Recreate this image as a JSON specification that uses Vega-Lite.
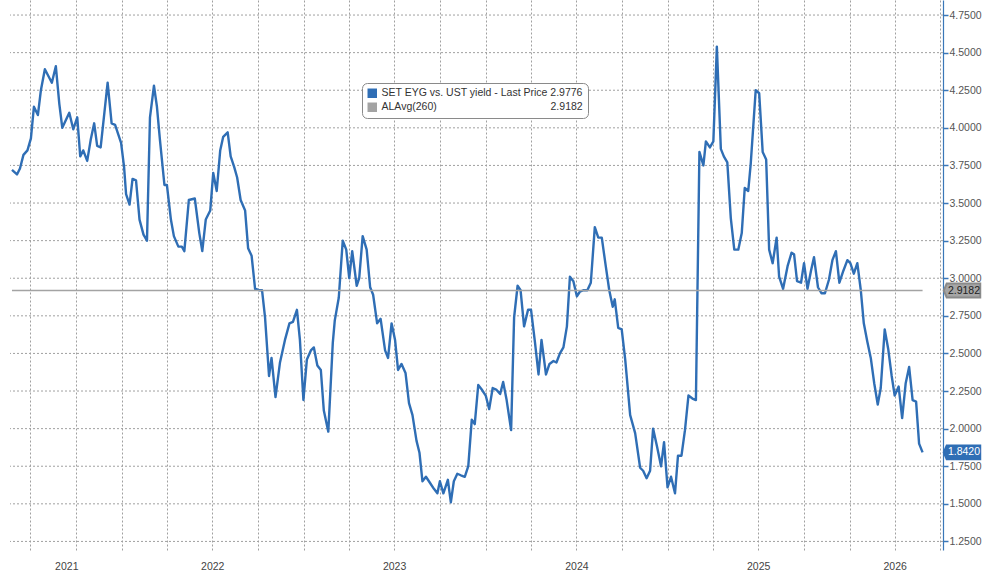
{
  "$schema": "https://vega.github.io/schema/vega-lite/v6.json",
  "width": 933,
  "height": 550,
  "autosize": {"type": "none"},
  "padding": {"left": 10, "top": 0, "right": 39, "bottom": 23},
  "background": "white",
  "config": {
    "view": {"stroke": null},
    "font": "Liberation Sans"
  },
  "datasets": {
    "series": [
      {"date": "2021-05-25", "value": 3.72}, {"date": "2021-06-04", "value": 3.69}, {"date": "2021-06-10", "value": 3.73}, {"date": "2021-06-17", "value": 3.82}, {"date": "2021-06-25", "value": 3.85},
      {"date": "2021-07-02", "value": 3.93}, {"date": "2021-07-08", "value": 4.14}, {"date": "2021-07-16", "value": 4.085}, {"date": "2021-07-22", "value": 4.25}, {"date": "2021-07-30", "value": 4.39},
      {"date": "2021-08-13", "value": 4.30}, {"date": "2021-08-21", "value": 4.41}, {"date": "2021-08-28", "value": 4.16}, {"date": "2021-09-03", "value": 4.00}, {"date": "2021-09-10", "value": 4.05},
      {"date": "2021-09-17", "value": 4.10}, {"date": "2021-09-25", "value": 3.99}, {"date": "2021-10-03", "value": 4.07}, {"date": "2021-10-09", "value": 3.81}, {"date": "2021-10-15", "value": 3.85},
      {"date": "2021-10-23", "value": 3.78}, {"date": "2021-10-30", "value": 3.92}, {"date": "2021-11-06", "value": 4.03}, {"date": "2021-11-12", "value": 3.88}, {"date": "2021-11-19", "value": 3.87},
      {"date": "2021-12-03", "value": 4.30}, {"date": "2021-12-11", "value": 4.03}, {"date": "2021-12-18", "value": 4.02}, {"date": "2021-12-30", "value": 3.90}, {"date": "2022-01-05", "value": 3.74},
      {"date": "2022-01-09", "value": 3.56}, {"date": "2022-01-16", "value": 3.49}, {"date": "2022-01-22", "value": 3.66}, {"date": "2022-01-29", "value": 3.65}, {"date": "2022-02-05", "value": 3.39},
      {"date": "2022-02-13", "value": 3.29}, {"date": "2022-02-20", "value": 3.25}, {"date": "2022-02-26", "value": 4.07}, {"date": "2022-03-06", "value": 4.28}, {"date": "2022-03-12", "value": 4.14},
      {"date": "2022-03-18", "value": 3.92}, {"date": "2022-03-27", "value": 3.62}, {"date": "2022-04-01", "value": 3.62}, {"date": "2022-04-09", "value": 3.39}, {"date": "2022-04-15", "value": 3.28},
      {"date": "2022-04-24", "value": 3.21}, {"date": "2022-05-01", "value": 3.21}, {"date": "2022-05-06", "value": 3.18}, {"date": "2022-05-15", "value": 3.52}, {"date": "2022-05-27", "value": 3.53},
      {"date": "2022-06-05", "value": 3.30}, {"date": "2022-06-11", "value": 3.18}, {"date": "2022-06-18", "value": 3.39}, {"date": "2022-06-27", "value": 3.45}, {"date": "2022-07-03", "value": 3.70},
      {"date": "2022-07-10", "value": 3.58}, {"date": "2022-07-17", "value": 3.85}, {"date": "2022-07-23", "value": 3.94}, {"date": "2022-08-01", "value": 3.97}, {"date": "2022-08-07", "value": 3.81},
      {"date": "2022-08-14", "value": 3.74}, {"date": "2022-08-20", "value": 3.67}, {"date": "2022-08-27", "value": 3.52}, {"date": "2022-09-05", "value": 3.45}, {"date": "2022-09-11", "value": 3.20},
      {"date": "2022-09-18", "value": 3.15}, {"date": "2022-09-25", "value": 2.93}, {"date": "2022-10-04", "value": 2.92}, {"date": "2022-10-09", "value": 2.92}, {"date": "2022-10-15", "value": 2.74},
      {"date": "2022-10-23", "value": 2.35}, {"date": "2022-10-28", "value": 2.47}, {"date": "2022-11-05", "value": 2.21}, {"date": "2022-11-14", "value": 2.44}, {"date": "2022-11-24", "value": 2.59},
      {"date": "2022-12-03", "value": 2.70}, {"date": "2022-12-10", "value": 2.71}, {"date": "2022-12-18", "value": 2.79}, {"date": "2022-12-24", "value": 2.59}, {"date": "2022-12-31", "value": 2.19},
      {"date": "2023-01-07", "value": 2.46}, {"date": "2023-01-15", "value": 2.52}, {"date": "2023-01-21", "value": 2.54}, {"date": "2023-01-28", "value": 2.42}, {"date": "2023-02-04", "value": 2.39},
      {"date": "2023-02-10", "value": 2.12}, {"date": "2023-02-19", "value": 1.98}, {"date": "2023-02-28", "value": 2.57}, {"date": "2023-03-04", "value": 2.72}, {"date": "2023-03-12", "value": 2.87},
      {"date": "2023-03-20", "value": 3.25}, {"date": "2023-03-27", "value": 3.19}, {"date": "2023-04-02", "value": 3.00}, {"date": "2023-04-08", "value": 3.18}, {"date": "2023-04-17", "value": 2.95},
      {"date": "2023-04-22", "value": 3.00}, {"date": "2023-04-29", "value": 3.28}, {"date": "2023-05-07", "value": 3.19}, {"date": "2023-05-14", "value": 2.94}, {"date": "2023-05-20", "value": 2.89},
      {"date": "2023-05-28", "value": 2.70}, {"date": "2023-06-04", "value": 2.73}, {"date": "2023-06-13", "value": 2.52}, {"date": "2023-06-19", "value": 2.47}, {"date": "2023-06-26", "value": 2.70},
      {"date": "2023-07-03", "value": 2.59}, {"date": "2023-07-09", "value": 2.39}, {"date": "2023-07-16", "value": 2.43}, {"date": "2023-07-24", "value": 2.37}, {"date": "2023-07-31", "value": 2.17},
      {"date": "2023-08-07", "value": 2.09}, {"date": "2023-08-15", "value": 1.92}, {"date": "2023-08-21", "value": 1.84}, {"date": "2023-08-27", "value": 1.65}, {"date": "2023-09-03", "value": 1.68},
      {"date": "2023-09-11", "value": 1.64}, {"date": "2023-09-19", "value": 1.60}, {"date": "2023-09-26", "value": 1.57}, {"date": "2023-10-01", "value": 1.65}, {"date": "2023-10-08", "value": 1.57},
      {"date": "2023-10-17", "value": 1.66}, {"date": "2023-10-23", "value": 1.51}, {"date": "2023-10-29", "value": 1.65}, {"date": "2023-11-05", "value": 1.70}, {"date": "2023-11-12", "value": 1.69},
      {"date": "2023-11-20", "value": 1.68}, {"date": "2023-11-27", "value": 1.75}, {"date": "2023-12-04", "value": 2.06}, {"date": "2023-12-10", "value": 2.03}, {"date": "2023-12-17", "value": 2.29},
      {"date": "2023-12-24", "value": 2.26}, {"date": "2024-01-01", "value": 2.22}, {"date": "2024-01-08", "value": 2.13}, {"date": "2024-01-15", "value": 2.27}, {"date": "2024-01-22", "value": 2.26},
      {"date": "2024-01-30", "value": 2.23}, {"date": "2024-02-05", "value": 2.31}, {"date": "2024-02-12", "value": 2.19}, {"date": "2024-02-21", "value": 1.99}, {"date": "2024-02-27", "value": 2.74},
      {"date": "2024-03-05", "value": 2.95}, {"date": "2024-03-11", "value": 2.92}, {"date": "2024-03-18", "value": 2.68}, {"date": "2024-03-26", "value": 2.79}, {"date": "2024-04-01", "value": 2.79},
      {"date": "2024-04-09", "value": 2.57}, {"date": "2024-04-16", "value": 2.36}, {"date": "2024-04-22", "value": 2.59}, {"date": "2024-05-01", "value": 2.36}, {"date": "2024-05-08", "value": 2.43},
      {"date": "2024-05-16", "value": 2.45}, {"date": "2024-05-22", "value": 2.44}, {"date": "2024-05-29", "value": 2.50}, {"date": "2024-06-05", "value": 2.54}, {"date": "2024-06-12", "value": 2.68},
      {"date": "2024-06-18", "value": 3.01}, {"date": "2024-06-25", "value": 2.98}, {"date": "2024-07-02", "value": 2.88}, {"date": "2024-07-08", "value": 2.91}, {"date": "2024-07-15", "value": 2.92},
      {"date": "2024-07-23", "value": 2.92}, {"date": "2024-07-30", "value": 2.97}, {"date": "2024-08-07", "value": 3.34}, {"date": "2024-08-14", "value": 3.27}, {"date": "2024-08-21", "value": 3.27},
      {"date": "2024-08-29", "value": 3.08}, {"date": "2024-09-05", "value": 2.92}, {"date": "2024-09-12", "value": 2.81}, {"date": "2024-09-16", "value": 2.86}, {"date": "2024-09-23", "value": 2.67},
      {"date": "2024-09-30", "value": 2.66}, {"date": "2024-10-07", "value": 2.46}, {"date": "2024-10-17", "value": 2.09}, {"date": "2024-10-27", "value": 1.97}, {"date": "2024-11-06", "value": 1.74},
      {"date": "2024-11-12", "value": 1.72}, {"date": "2024-11-19", "value": 1.67}, {"date": "2024-11-26", "value": 1.72}, {"date": "2024-12-02", "value": 2.00}, {"date": "2024-12-10", "value": 1.88},
      {"date": "2024-12-18", "value": 1.75}, {"date": "2024-12-24", "value": 1.91}, {"date": "2024-12-31", "value": 1.61}, {"date": "2025-01-07", "value": 1.68}, {"date": "2025-01-15", "value": 1.57},
      {"date": "2025-01-21", "value": 1.82}, {"date": "2025-01-28", "value": 1.82}, {"date": "2025-02-04", "value": 1.99}, {"date": "2025-02-11", "value": 2.22}, {"date": "2025-02-19", "value": 2.20},
      {"date": "2025-02-26", "value": 2.19}, {"date": "2025-03-05", "value": 3.84}, {"date": "2025-03-13", "value": 3.75}, {"date": "2025-03-18", "value": 3.91}, {"date": "2025-03-26", "value": 3.87},
      {"date": "2025-04-02", "value": 3.91}, {"date": "2025-04-09", "value": 4.54}, {"date": "2025-04-17", "value": 3.86}, {"date": "2025-04-23", "value": 3.81}, {"date": "2025-04-30", "value": 3.77},
      {"date": "2025-05-07", "value": 3.40}, {"date": "2025-05-14", "value": 3.19}, {"date": "2025-05-22", "value": 3.19}, {"date": "2025-05-29", "value": 3.30}, {"date": "2025-06-04", "value": 3.60},
      {"date": "2025-06-11", "value": 3.58}, {"date": "2025-06-16", "value": 3.76}, {"date": "2025-06-26", "value": 4.25}, {"date": "2025-07-03", "value": 4.23}, {"date": "2025-07-10", "value": 3.84},
      {"date": "2025-07-17", "value": 3.79}, {"date": "2025-07-23", "value": 3.19}, {"date": "2025-07-30", "value": 3.10}, {"date": "2025-08-07", "value": 3.27}, {"date": "2025-08-12", "value": 3.01},
      {"date": "2025-08-20", "value": 2.93}, {"date": "2025-08-29", "value": 3.08}, {"date": "2025-09-06", "value": 3.17}, {"date": "2025-09-11", "value": 3.16}, {"date": "2025-09-17", "value": 2.98},
      {"date": "2025-09-25", "value": 2.97}, {"date": "2025-10-01", "value": 3.10}, {"date": "2025-10-08", "value": 2.93}, {"date": "2025-10-15", "value": 3.05}, {"date": "2025-10-21", "value": 3.14},
      {"date": "2025-10-29", "value": 2.94}, {"date": "2025-11-05", "value": 2.90}, {"date": "2025-11-12", "value": 2.90}, {"date": "2025-11-20", "value": 2.99}, {"date": "2025-11-27", "value": 3.12},
      {"date": "2025-12-04", "value": 3.18}, {"date": "2025-12-11", "value": 2.97}, {"date": "2025-12-19", "value": 3.05}, {"date": "2025-12-27", "value": 3.12}, {"date": "2026-01-02", "value": 3.10},
      {"date": "2026-01-09", "value": 3.03}, {"date": "2026-01-16", "value": 3.10}, {"date": "2026-01-23", "value": 2.92}, {"date": "2026-01-29", "value": 2.70}, {"date": "2026-02-05", "value": 2.58},
      {"date": "2026-02-12", "value": 2.47}, {"date": "2026-02-19", "value": 2.30}, {"date": "2026-02-26", "value": 2.16}, {"date": "2026-03-04", "value": 2.27}, {"date": "2026-03-12", "value": 2.66},
      {"date": "2026-03-19", "value": 2.53}, {"date": "2026-03-26", "value": 2.35}, {"date": "2026-04-01", "value": 2.22}, {"date": "2026-04-09", "value": 2.28}, {"date": "2026-04-16", "value": 2.07},
      {"date": "2026-04-23", "value": 2.30}, {"date": "2026-04-30", "value": 2.41}, {"date": "2026-05-07", "value": 2.19}, {"date": "2026-05-14", "value": 2.18}, {"date": "2026-05-20", "value": 1.90},
      {"date": "2026-05-27", "value": 1.842}
    ],
    "ygrid": [
      {"level": 1.25}, {"level": 1.5}, {"level": 1.75}, {"level": 2.0}, {"level": 2.25}, {"level": 2.5}, {"level": 2.75}, {"level": 3.0},
      {"level": 3.25}, {"level": 3.5}, {"level": 3.75}, {"level": 4.0}, {"level": 4.25}, {"level": 4.5}, {"level": 4.75}
    ],
    "avg": [{"start": "2021-05-25", "end": "2026-05-27", "value": 2.9182}],
    "tags": [
      {"kind": "avg", "value": 2.9182, "label": "2.9182"},
      {"kind": "last", "value": 1.842, "label": "1.8420"}
    ]
  },
  "layer": [
    {
      "data": {"name": "ygrid"},
      "mark": {"type": "rule", "color": "#a0a0a0", "strokeWidth": 1, "strokeDash": [2, 2]},
      "encoding": {
        "y": {"field": "level", "type": "quantitative"}
      }
    },
    {
      "data": {"name": "series"},
      "mark": {"type": "line", "strokeWidth": 2.4, "strokeJoin": "round"},
      "encoding": {
        "x": {
          "field": "date", "type": "temporal",
          "scale": {"domain": [{"year": 2021, "month": 5, "date": 21}, {"year": 2026, "month": 7, "date": 7}]},
          "axis": {
            "orient": "bottom", "title": null, "ticks": false, "domain": false, "grid": true, "labelOverlap": false, "tickCount": 40,
            "values": [
              {"year": 2021, "month": 7, "date": 1}, {"year": 2021, "month": 9, "date": 11}, {"year": 2021, "month": 10, "date": 1},
              {"year": 2022, "month": 1, "date": 1}, {"year": 2022, "month": 4, "date": 1}, {"year": 2022, "month": 7, "date": 1}, {"year": 2022, "month": 10, "date": 1},
              {"year": 2023, "month": 1, "date": 1}, {"year": 2023, "month": 4, "date": 1}, {"year": 2023, "month": 7, "date": 1}, {"year": 2023, "month": 10, "date": 1},
              {"year": 2024, "month": 1, "date": 1}, {"year": 2024, "month": 4, "date": 1}, {"year": 2024, "month": 7, "date": 1}, {"year": 2024, "month": 10, "date": 1},
              {"year": 2025, "month": 1, "date": 1}, {"year": 2025, "month": 4, "date": 1}, {"year": 2025, "month": 7, "date": 1}, {"year": 2025, "month": 10, "date": 1},
              {"year": 2026, "month": 1, "date": 1}, {"year": 2026, "month": 4, "date": 1}, {"year": 2026, "month": 7, "date": 1}
            ],
            "labelExpr": "(month(datum.value) == 6 && year(datum.value) >= 2022 && year(datum.value) <= 2025) || (month(datum.value) == 8) || (month(datum.value) == 3 && year(datum.value) == 2026) ? timeFormat(datum.value, '%Y') : ''",
            "gridOpacity": {"condition": {"test": "month(datum.value) == 8", "value": 0}, "value": 1},
            "gridColor": "#a0a0a0", "gridDash": [2, 2], "gridWidth": 1,
            "labelColor": "#444444", "labelFontSize": 10.5, "labelPadding": 11, "labelFont": "Liberation Sans"
          }
        },
        "y": {
          "field": "value", "type": "quantitative",
          "scale": {"domain": [1.193, 4.85], "nice": false, "zero": false},
          "axis": {
            "orient": "right", "title": null, "tickCount": 30, "values": [1.25, 1.5, 1.75, 2, 2.25, 2.5, 2.75, 3, 3.25, 3.5, 3.75, 4, 4.25, 4.5, 4.75],
            "format": ".4f", "grid": false, "labelOverlap": false,
            "domainColor": "#3a77b8", "domainWidth": 1.2, "tickColor": "#3a77b8", "tickSize": 5, "tickWidth": 1.5,
            "labelColor": "#555555", "labelFontSize": 10.5, "labelPadding": 1, "labelFont": "Liberation Sans"
          }
        },
        "color": {
          "datum": "SET EYG vs. UST yield - Last Price 2.9776",
          "scale": {
            "domain": ["SET EYG vs. UST yield - Last Price 2.9776", "ALAvg(260)\u00a0\u00a0\u00a0\u00a0\u00a0\u00a0\u00a0\u00a0\u00a0\u00a0\u00a0\u00a0\u00a0\u00a0\u00a0\u00a0\u00a0\u00a0\u00a0\u00a0\u00a0\u00a0\u00a0\u00a0\u00a0\u00a0\u00a0\u00a0\u00a0\u00a0\u00a0\u00a0\u00a0\u00a0\u00a0\u00a0\u00a0\u00a0\u00a02.9182"],
            "range": ["#2f6eb5", "#a3a3a3"]
          },
          "legend": {
            "orient": "none", "legendX": 352, "legendY": 83, "title": null,
            "strokeColor": "#8a8a8a", "fillColor": "white", "cornerRadius": 5, "padding": 5,
            "symbolType": "square", "symbolSize": 90, "symbolStrokeWidth": 0, "symbolOpacity": 1,
            "labelFontSize": 10.5, "labelColor": "#333333", "labelFont": "Liberation Sans", "rowPadding": 3, "labelLimit": 400, "labelOffset": 4,
            "encode": {"symbols": {"update": {"fill": {"scale": "color", "field": "value"}, "strokeWidth": {"value": 0}}}}
          }
        }
      }
    },
    {
      "data": {"name": "avg"},
      "mark": {"type": "rule", "strokeWidth": 1.5},
      "encoding": {
        "x": {"field": "start", "type": "temporal"},
        "x2": {"field": "end"},
        "y": {"field": "value", "type": "quantitative"},
        "color": {"datum": "ALAvg(260)\u00a0\u00a0\u00a0\u00a0\u00a0\u00a0\u00a0\u00a0\u00a0\u00a0\u00a0\u00a0\u00a0\u00a0\u00a0\u00a0\u00a0\u00a0\u00a0\u00a0\u00a0\u00a0\u00a0\u00a0\u00a0\u00a0\u00a0\u00a0\u00a0\u00a0\u00a0\u00a0\u00a0\u00a0\u00a0\u00a0\u00a0\u00a0\u00a02.9182"}
      }
    },
    {
      "data": {"name": "tags"},
      "mark": {"type": "point", "filled": true, "opacity": 1, "shape": "M -1 0 L -0.84 -0.38 L 1 -0.38 L 1 0.38 L -0.84 0.38 Z", "size": 1330},
      "encoding": {
        "x": {"datum": {"year": 2026, "month": 7, "date": 7}, "type": "temporal"},
        "xOffset": {"value": 19},
        "y": {"field": "value", "type": "quantitative"},
        "fill": {"condition": {"test": "datum.kind === 'last'", "value": "#2f6eb5"}, "value": "#a6a6a6"},
        "stroke": {"condition": {"test": "datum.kind === 'last'", "value": "#2f6eb5"}, "value": "#8a8a8a"}
      }
    },
    {
      "data": {"name": "tags"},
      "mark": {"type": "text", "dx": 21, "align": "center", "baseline": "middle", "fontSize": 10.5, "font": "Liberation Sans"},
      "encoding": {
        "x": {"datum": {"year": 2026, "month": 7, "date": 7}, "type": "temporal"},
        "y": {"field": "value", "type": "quantitative"},
        "text": {"field": "label"},
        "color": {"condition": {"test": "datum.kind === 'last'", "value": "white"}, "value": "#222222"}
      }
    }
  ]
}
